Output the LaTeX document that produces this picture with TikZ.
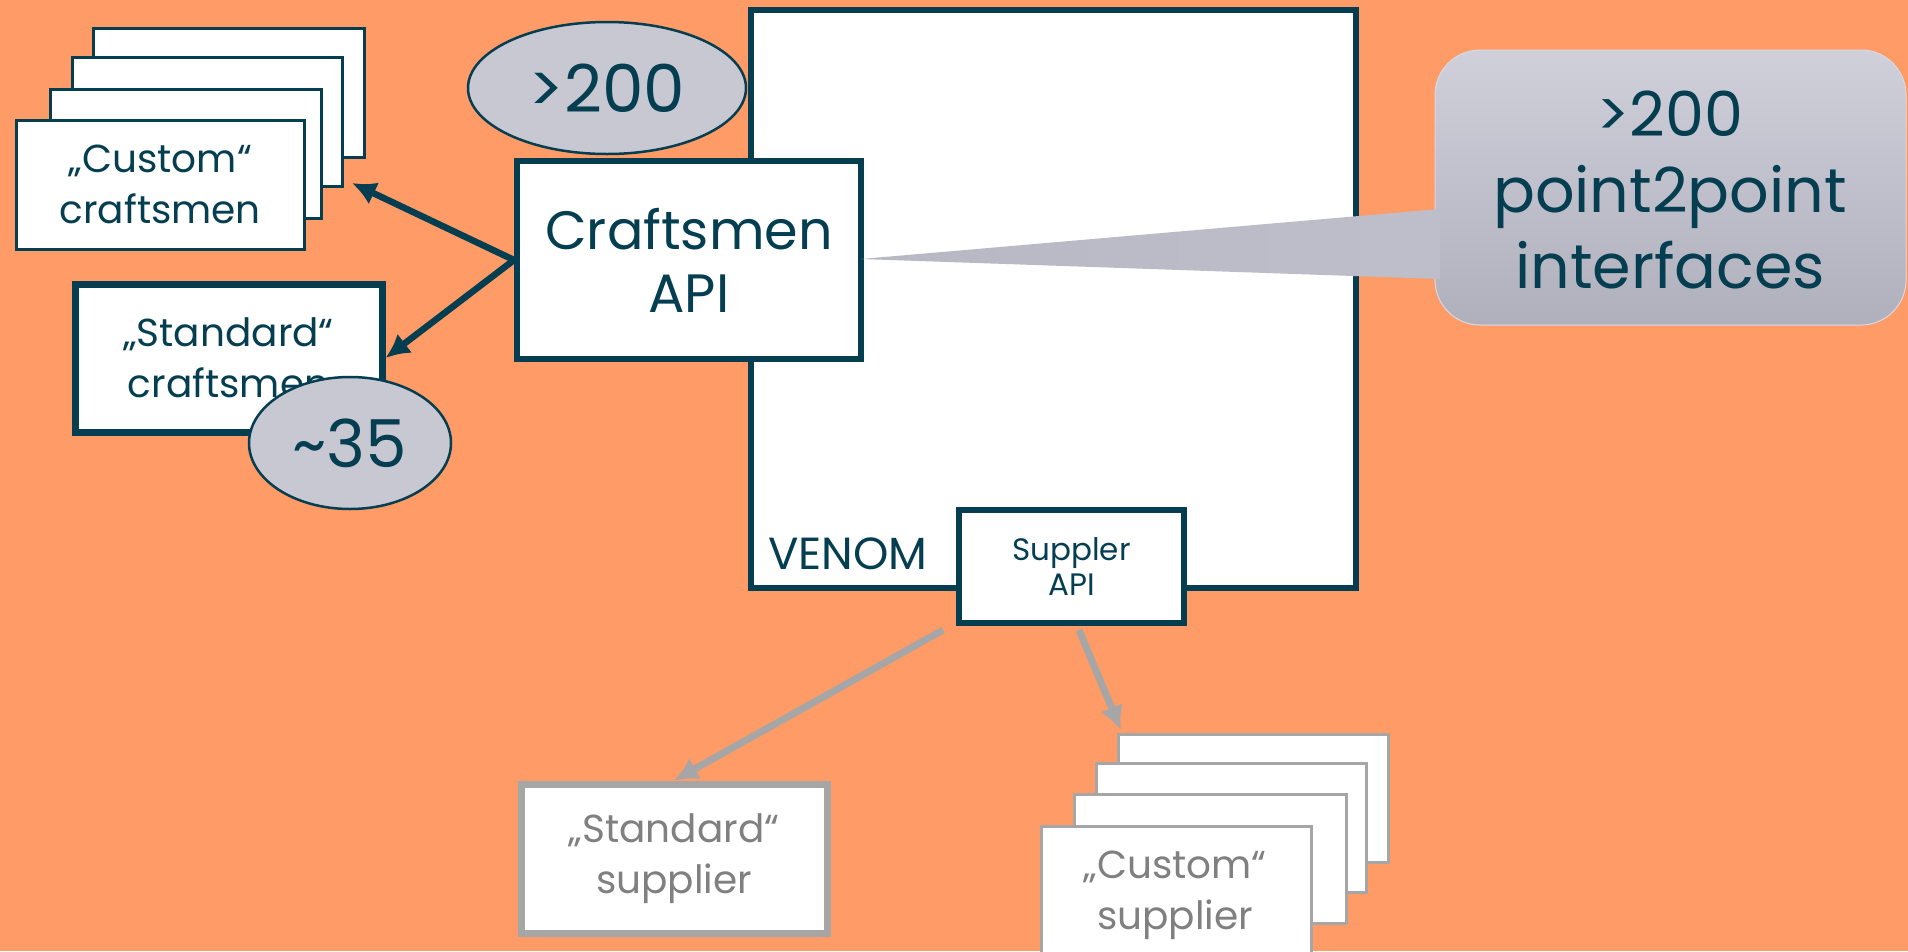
\documentclass[tikz,border=0pt]{standalone}
\usepackage{fontspec}
\setmainfont{Poppins}
\usetikzlibrary{arrows.meta,shapes.geometric}
\definecolor{bgc}{RGB}{255,155,102}
\definecolor{tealc}{RGB}{4,62,80}
\definecolor{ellc}{RGB}{200,200,211}
\definecolor{grayl}{RGB}{166,166,166}
\definecolor{grayt}{RGB}{128,128,128}
\definecolor{calltop}{RGB}{208,208,219}
\definecolor{callbot}{RGB}{176,176,189}
\begin{document}
\begin{tikzpicture}[x=1pt,y=-1pt,
  box/.style={draw=tealc, fill=white, line width=6pt, inner sep=0pt, text=tealc, align=center},
  thinbox/.style={draw=tealc, fill=white, line width=2.5pt, inner sep=0pt, text=tealc, align=center},
  graybox/.style={draw=grayl, fill=white, line width=7pt, inner sep=0pt, text=grayt, align=center},
  graythin/.style={draw=grayl, fill=white, line width=3pt, inner sep=0pt, text=grayt, align=center},
  countell/.style={ellipse, draw=tealc, fill=ellc, line width=2.5pt, inner sep=0pt, text=tealc, font=\fontsize{66}{70}\selectfont},
  darrow/.style={draw=tealc, line width=6.5pt, -{Latex[length=24pt,width=24pt]}},
  garrow/.style={draw=grayl, line width=7pt, -{Latex[length=24pt,width=24pt]}},
  midfont/.style={font=\fontsize{39}{51}\selectfont}
]
\fill[bgc] (0,0) rectangle (1908,951);
\useasboundingbox (0,0) rectangle (1908,951);
\clip (0,0) rectangle (1908,951);

% VENOM system box
\node[box, minimum width=605, minimum height=578] (venom) at (1053.5,299) {};
\node[text=tealc, font=\fontsize{45}{50}\selectfont, anchor=center] (venomlbl) at (848,554) {VENOM};

% Custom craftsmen stack
\node[thinbox, minimum width=271, minimum height=129, anchor=north west] (cc4) at (92,27) {};
\node[thinbox, minimum width=270, minimum height=129, anchor=north west] (cc3) at (71,56) {};
\node[thinbox, minimum width=271, minimum height=129, anchor=north west] (cc2) at (49,88) {};
\node[thinbox, midfont, minimum width=288, minimum height=129, anchor=north west] (cc1) at (15,119) {„Custom“\\craftsmen};

% Standard craftsmen
\node[box, midfont, line width=7pt, minimum width=307, minimum height=148] (sc) at (228.5,358) {„Standard“\\craftsmen};

% counts
\node[countell, minimum width=278, minimum height=132] (c200) at (607,88) {>200};

% Craftsmen API
\node[box, minimum width=344, minimum height=198, font=\fontsize{54}{63}\selectfont] (capi) at (689,260) {Craftsmen\\API};

\node[countell, minimum width=202, minimum height=132] (c35) at (350,443) {\char`~35};

% craftsmen arrows
\coordinate (cctip) at (352,183);
\draw[darrow] (capi.west) -- (cctip);
\draw[darrow] (capi.west) -- (sc.east);

% Supplier API
\node[box, minimum width=225, minimum height=113, font=\fontsize{31}{35}\selectfont] (sapi) at (1071.5,566.5) {Suppler\\API};

% Standard supplier
\node[graybox, midfont, minimum width=306, minimum height=149] (ss) at (674,858.5) {„Standard“\\supplier};

% Custom supplier stack
\node[graythin, minimum width=270, minimum height=128, anchor=north west] (cs4) at (1117,733) {};
\node[graythin, minimum width=270, minimum height=129, anchor=north west] (cs3) at (1095,762) {};
\node[graythin, minimum width=272, minimum height=129, anchor=north west] (cs2) at (1073,793) {};
\node[graythin, minimum width=270, minimum height=160, anchor=north west] (cs1) at (1040,825) {};
\node[text=grayt, midfont, align=center] (cstext) at (1175,895) {„Custom“\\supplier};

% supplier arrows
\coordinate (gs1) at (943,630);
\coordinate (gs2) at (1079,630);
\coordinate (cstip) at (1121,730);
\draw[garrow] (gs1) -- (ss.north);
\draw[garrow] (gs2) -- (cstip);

% callout
\shade[top color=calltop, bottom color=callbot, rounded corners=45pt, draw=calltop!80!white, line width=1pt] (1435,50) rectangle (1906,325);
\shade[left color=callbot!75!calltop, right color=callbot!55!calltop] (1440,209) -- (861,259) -- (1440,279) -- cycle;
\node[text=tealc, align=center, font=\fontsize{62}{76}\selectfont] (callout) at (1670,190) {>200\\point2point\\interfaces};
\end{tikzpicture}
\end{document}
